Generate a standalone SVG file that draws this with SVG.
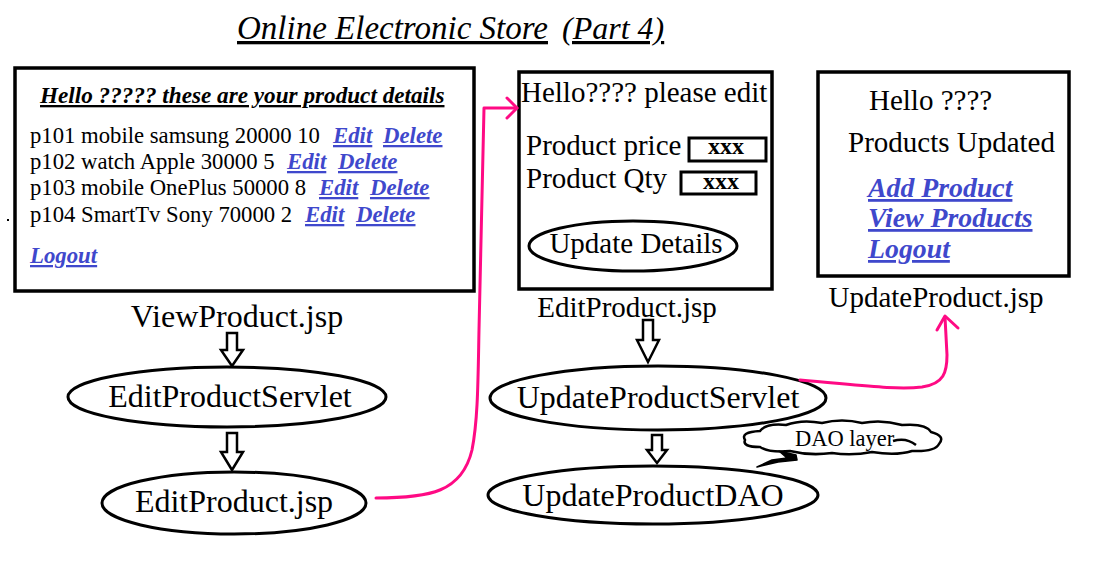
<svg xmlns="http://www.w3.org/2000/svg" width="1106" height="562" viewBox="0 0 1106 562">
<style>
text{font-family:"Liberation Serif","Times New Roman",serif;fill:#000}
.box{fill:#fff;stroke:#000;stroke-width:3.5}
.ell{fill:#fff;stroke:#000;stroke-width:3}
.harrow{fill:#fff;stroke:#000;stroke-width:2.5;stroke-linejoin:miter}
.pink{fill:none;stroke:#ff0a84;stroke-width:3;stroke-linecap:round;stroke-linejoin:round}
.link{fill:#3f48cc;font-weight:bold;font-style:italic;text-decoration:underline}
.row{font-size:22.7px}
.big{font-size:32px}
.mid{font-size:29px}
.lk23{font-size:22.8px}
.lk28{font-size:27.8px}
</style>
<g id="title">
<text x="237" y="39" font-size="33" font-style="italic" text-decoration="underline">Online Electronic Store</text>
<text x="562" y="39" font-size="32" font-style="italic" text-decoration="underline">(Part 4)</text>
</g>
<g id="viewproduct">
<rect class="box" x="15" y="68" width="459" height="223"/>
<text x="40" y="103" font-size="23.2" font-weight="bold" font-style="italic" text-decoration="underline">Hello ????? these are your product details</text>
<text class="row" x="30" y="143">p101 mobile samsung 20000 10</text>
<text class="link lk23" x="333" y="143">Edit</text>
<text class="link lk23" x="383" y="143">Delete</text>
<text class="row" x="30" y="169">p102 watch Apple 30000 5</text>
<text class="link lk23" x="287" y="169">Edit</text>
<text class="link lk23" x="338" y="169">Delete</text>
<text class="row" x="30" y="195">p103 mobile OnePlus 50000 8</text>
<text class="link lk23" x="319" y="195">Edit</text>
<text class="link lk23" x="370" y="195">Delete</text>
<text class="row" x="30" y="222">p104 SmartTv Sony 70000 2</text>
<text class="link lk23" x="305" y="222">Edit</text>
<text class="link lk23" x="356" y="222">Delete</text>
<text class="link lk23" x="30" y="263">Logout</text>
<rect x="7" y="219" width="2" height="2" fill="#000"/>
<text class="big" x="237" y="327" text-anchor="middle">ViewProduct.jsp</text>
</g>
<g id="editproduct-page">
<rect class="box" x="519" y="72" width="253" height="217"/>
<text class="mid" x="521" y="102">Hello???? please edit</text>
<text class="mid" x="526" y="155">Product price</text>
<rect x="689" y="138" width="77" height="23" fill="#fff" stroke="#000" stroke-width="3"/>
<text x="726" y="154" font-size="24" font-weight="bold" text-anchor="middle">xxx</text>
<text class="mid" x="526" y="188">Product Qty</text>
<rect x="681" y="172" width="75" height="22" fill="#fff" stroke="#000" stroke-width="3"/>
<text x="721" y="189" font-size="24" font-weight="bold" text-anchor="middle">xxx</text>
<ellipse class="ell" cx="633" cy="246" rx="104" ry="25"/>
<text class="mid" x="636" y="253" text-anchor="middle">Update Details</text>
<text class="mid" x="627" y="317" text-anchor="middle">EditProduct.jsp</text>
</g>
<g id="updateproduct-page">
<rect class="box" x="818" y="72" width="251" height="204"/>
<text class="mid" x="869" y="110">Hello ????</text>
<text class="mid" x="848" y="152">Products Updated</text>
<text class="link lk28" x="868" y="197">Add Product</text>
<text class="link lk28" x="868" y="227">View Products</text>
<text class="link lk28" x="868" y="258">Logout</text>
<text class="mid" x="936" y="307" text-anchor="middle">UpdateProduct.jsp</text>
</g>
<g id="editproductservlet">
<ellipse class="ell" cx="227" cy="397" rx="159" ry="30"/>
<text class="big" x="230" y="407" text-anchor="middle">EditProductServlet</text>
</g>
<g id="editproductjsp">
<ellipse class="ell" cx="234" cy="503" rx="132" ry="31"/>
<text class="big" x="234" y="512" text-anchor="middle">EditProduct.jsp</text>
</g>
<g id="updateproductservlet">
<ellipse class="ell" cx="658" cy="398" rx="168" ry="32"/>
<text class="big" x="658" y="408" text-anchor="middle">UpdateProductServlet</text>
</g>
<g id="updateproductdao">
<ellipse class="ell" cx="653" cy="495" rx="165" ry="29"/>
<text class="big" x="653" y="506" text-anchor="middle">UpdateProductDAO</text>
</g>
<g id="dao-layer">
<path d="M745,440 Q740,432 760,431 Q766,423 786,425 Q802,419 822,423 Q842,418 862,423 Q882,419 902,425 Q926,423 931,432 Q946,436 939,444 Q935,452 912,451 Q896,456 872,452 Q852,456 832,453 Q810,456 790,451 Q770,453 760,447 Q742,447 745,440 Z" fill="#fff" stroke="#000" stroke-width="2.5"/>
<path d="M893,441 Q906,437 916,445" fill="none" stroke="#000" stroke-width="2.5"/>
<path d="M779,451 L796,455 L797,460 L778,462 L757,467 L772,460 L787,458 Z" fill="#000" stroke="#000" stroke-width="1.5" stroke-linejoin="round"/>
<text x="795" y="446" font-size="22.5">DAO layer</text>
</g>
<g id="connectors">
<polygon class="harrow" points="227,333 237,333 237,350 243,350 232,366 221,350 227,350"/>
<polygon class="harrow" points="227,433 237,433 237,452 243,452 232,470 221,452 227,452"/>
<polygon class="harrow" points="643,320 653,320 653,340 659,340 648,362 637,340 643,340"/>
<polygon class="harrow" points="652,435 662,435 662,450 667,450 657,463 647,450 652,450"/>
<path class="pink" d="M376,498 C430,498 462,492 472,450 C478,420 478,380 479,330 L484,108 L517,108"/>
<path class="pink" d="M507,98 L517,108 L507,118"/>
<path class="pink" d="M800,380 C860,385 895,390 922,387 C944,384 947,372 947,355 L945,317"/>
<path class="pink" d="M937,330 L945,316 L958,328"/>
</g>
</svg>
